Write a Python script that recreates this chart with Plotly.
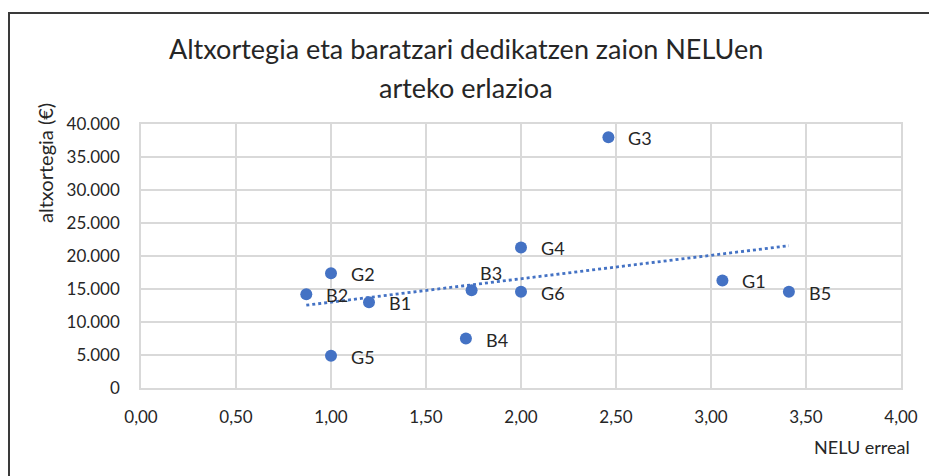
import numpy as np
import plotly.graph_objects as go

# ---- data ----
labels = ["G1", "G2", "G3", "G4", "G5", "G6", "B1", "B2", "B3", "B4", "B5"]
nelu_erreal = [3.06, 1.00, 2.46, 2.00, 1.00, 2.00, 1.20, 0.87, 1.74, 1.71, 3.41]
altxortegia = [16300, 17400, 38000, 21300, 4900, 14600, 13000, 14200, 14800, 7500, 14600]

title_lines = ["Altxortegia eta baratzari dedikatzen zaion NELUen", "arteko erlazioa"]
x_title = "NELU erreal"
y_title = "altxortegia (€)"

# ---- style ----
BLUE = "#4472C4"
GRID = "#d9d9d9"
TXT = "#262626"
FONT = "Lato"
W, H = 929, 476
ML, MR, MT, MB = 141, 28, 124, 88
PW, PH = W - ML - MR, H - MT - MB


def px_x(p):
    return (p - ML) / PW


def px_y(p):
    return (H - MB - p) / PH


fig = go.Figure()

# linear trendline (least squares) from the data
xa = np.array(nelu_erreal)
ya = np.array(altxortegia)
slope, intercept = np.polyfit(xa, ya, 1)
tx = np.array([xa.min(), xa.max()])
fig.add_trace(go.Scatter(x=tx, y=slope * tx + intercept, mode="lines",
                         line=dict(color=BLUE, width=2.8, dash="dot"),
                         hoverinfo="skip", showlegend=False))

fig.add_trace(go.Scatter(x=nelu_erreal, y=altxortegia, mode="markers",
                         marker=dict(color=BLUE, size=12),
                         text=labels, showlegend=False))

annotations = []
for lab, xv, yv in zip(labels, nelu_erreal, altxortegia):
    if lab == "B3":
        xs, ys = 6, 17
    else:
        xs, ys = 18, -1
    annotations.append(dict(x=xv, y=yv, xref="x", yref="y", text=lab,
                            showarrow=False, xanchor="left", yanchor="middle",
                            xshift=xs, yshift=ys,
                            font=dict(family=FONT, size=18, color=TXT)))

# title (two lines)
annotations.append(dict(x=px_x(466), y=px_y(48), xref="paper", yref="paper",
                        text=title_lines[0], showarrow=False, xanchor="center",
                        yanchor="middle", font=dict(family=FONT, size=27, color=TXT)))
annotations.append(dict(x=px_x(466), y=px_y(87), xref="paper", yref="paper",
                        text=title_lines[1], showarrow=False, xanchor="center",
                        yanchor="middle", font=dict(family=FONT, size=27, color=TXT)))
# axis titles
annotations.append(dict(x=px_x(912), y=px_y(447), xref="paper", yref="paper",
                        text=x_title, showarrow=False, xanchor="right",
                        yanchor="middle", font=dict(family=FONT, size=18, color=TXT)))
annotations.append(dict(x=px_x(45), y=px_y(163), xref="paper", yref="paper",
                        text=y_title, showarrow=False, textangle=-90,
                        xanchor="center", yanchor="middle",
                        font=dict(family=FONT, size=20, color=TXT)))

fig.update_layout(
    width=W, height=H,
    margin=dict(l=ML, r=MR, t=MT, b=MB),
    paper_bgcolor="white", plot_bgcolor="white",
    separators=",.",
    showlegend=False,
    annotations=annotations,
    shapes=[dict(type="rect", xref="paper", yref="paper",
                 x0=px_x(9), x1=px_x(940), y0=px_y(490), y1=px_y(13),
                 line=dict(color="#3a3a3a", width=2), layer="above")],
    font=dict(family=FONT, color=TXT),
)
fig.update_xaxes(range=[0, 4], dtick=0.5, tickformat=".2f",
                 showgrid=True, gridcolor=GRID, gridwidth=1.5,
                 showline=True, linecolor=GRID, linewidth=1.5, mirror=True,
                 zeroline=False, ticks="", ticklabelstandoff=13,
                 tickfont=dict(family=FONT, size=17, color=TXT))
fig.update_yaxes(range=[0, 40000], dtick=5000, tickformat=",d",
                 showgrid=True, gridcolor=GRID, gridwidth=1.5,
                 showline=True, linecolor=GRID, linewidth=1.5, mirror=True,
                 zeroline=False, ticks="", ticklabelstandoff=16,
                 tickfont=dict(family=FONT, size=17, color=TXT))

fig.write_html("out.html", config={"displayModeBar": False},
               post_script="document.body.style.margin='0';document.body.style.overflow='hidden';")
